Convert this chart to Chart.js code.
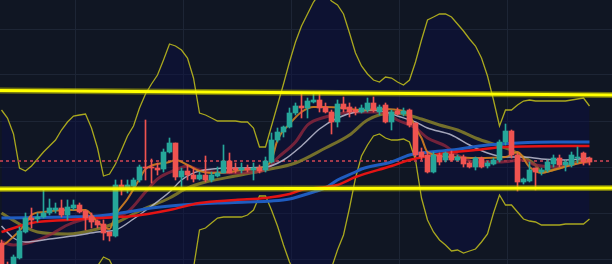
<!DOCTYPE html>
<html>
<head>
<meta charset="utf-8">
<script src="https://cdn.jsdelivr.net/npm/chart.js@4.4.1/dist/chart.umd.min.js"></script>
<style>
  html, body { margin: 0; padding: 0; background: #101623; overflow: hidden; }
  #wrap { width: 612px; height: 264px; }
</style>
</head>
<body>
<div id="wrap"><canvas id="chart" width="612" height="264"></canvas></div>
<script>
// candles, one per bar index (values in chart units, higher = up)
const opens = [21,-1,-4,6,32,46,45,47,51,54, 56,49,56,59,53,48,43,40,32,28, 79,74,78,84,97,97,96,95,112,121, 87,93,89,85,89,84,88,91,103,96, 94,96,94,96,94,102,124,132,137,151, 158,156,162,164,157,152,142,160,157,154, 152,154,161,152,159,142,153,150,154,141, 112,109,92,109,104,110,104,107,101,97, 106,98,100,104,122,133,109,82,83,96, 92,94,100,106,99,99,106,111,106];
const highs = [24,2,9,37,51,56,51,74,65,61, 64,64,64,61,54,51,44,44,32,84, 84,84,86,99,144,105,101,115,126,121, 96,99,96,92,108,92,97,119,111,101, 101,99,101,99,107,131,136,138,156,161, 172,166,172,172,161,154,164,167,161,157, 159,166,167,159,161,154,156,156,155,141, 116,112,112,111,112,113,109,109,102,107, 107,103,106,124,140,134,111,86,102,96, 96,104,109,109,104,112,117,112,107];
const lows = [-16,-15,-6,5,31,36,42,46,49,51, 47,44,54,51,34,36,36,24,23,27, 69,71,74,82,84,81,89,92,111,84, 77,84,82,84,82,82,87,91,91,91, 91,92,84,91,92,101,122,127,136,149, 146,146,161,152,151,130,137,152,147,149, 151,152,152,149,141,134,149,148,137,107, 104,91,91,99,102,103,103,97,96,94, 96,96,99,102,119,106,73,80,82,74, 89,92,97,97,93,97,101,99,99];
const closes = [-8,-11,7,33,46,44,47,51,56,56, 49,57,59,52,46,42,39,31,28,79, 74,79,84,97,96,96,94,112,121,87, 93,89,85,89,84,89,91,103,91,94, 96,94,96,93,103,124,132,137,151,158, 156,163,164,156,152,142,160,155,152,152, 156,161,154,157,142,152,150,153,139,109, 107,92,109,102,111,104,107,100,97,106, 97,101,104,122,133,109,82,85,94,92, 94,102,106,99,102,109,107,102,102];

// bollinger bands, one value per bar
const bbUpper = [154,146,130,96,93,98,105,112,118,124, 134,142,148,149,150,136,116,88,90,100, 114,128,138,156,170,180,189,204,220,218, 214,206,186,151,149,146,143,143,143,143, 142,142,136,117,117,138,159,180,202,222, 238,250,262,270,270,263,259,250,231,211, 198,190,184,182,187,186,182,179,184,202, 224,244,247,250,250,247,240,233,225,218, 206,188,164,138,154,154,159,163,164,163, 163,163,163,163,163,164,165,166,158];
const bbLower = [-66,-61,-54,-41,-36,-38,-44,-48,-54,-56, -54,-48,-41,-34,-26,-16,-2,7,4,-8, -21,-34,-46,-56,-66,-71,-74,-76,-76,-72, -61,-41,-4,34,36,41,46,47,47,47, 47,49,54,68,68,54,38,19,2,-11, -21,-28,-31,-26,-16,-4,14,29,56,86, 108,119,128,130,126,124,124,125,122,104, 66,44,32,24,19,13,14,11,13,15, 22,30,51,69,59,59,52,45,43,42, 39,39,39,39,40,40,40,40,45];

// moving averages as [bar index, value]
const maBlue = [[0,46],[11,47],[16,48],[22,53],[25,56],[30,59],[36,61],[41,62],[45,63],[48,65],[52,72],[54,76],[56,84],[59,92],[60,95],[65,102],[68,109],[70,111],[75,114],[81,119],[86,121],[92,122],[98,122]];
const maRed = [[0,32],[5,41],[11,44],[16,46],[22,48],[28,54],[33,61],[39,64],[44,66],[48,70],[50,74],[56,79],[59,87],[65,98],[68,104],[73,110],[79,114],[84,117],[98,118]];
const maOrange = [[0,18],[1,22],[4,40],[5,49],[7,52],[11,54],[14,54],[16,42],[18,35],[19,49],[21,65],[23,85],[24,95],[28,102],[29,104],[31,99],[33,93],[35,91],[38,92],[40,94],[43,96],[45,104],[46,124],[48,140],[50,152],[52,157],[54,157],[57,156],[60,154],[63,155],[66,154],[68,149],[69,136],[70,126],[71,112],[75,107],[79,106],[84,107],[86,112],[88,97],[90,91],[92,94],[95,99],[98,103]];
const maMaroon = [[0,22],[2,19],[5,22],[8,29],[11,39],[14,45],[18,47],[21,52],[24,72],[26,85],[29,94],[31,98],[33,94],[39,91],[44,94],[46,106],[49,122],[51,139],[54,147],[57,151],[60,152],[62,152],[64,151],[66,144],[69,136],[71,126],[74,118],[76,109],[79,102],[83,102],[87,104],[89,99],[93,97],[96,101],[98,102]];
const maGray = [[0,38],[2,26],[4,22],[8,25],[13,29],[16,32],[19,34],[22,45],[25,58],[28,72],[30,84],[33,93],[39,96],[44,97],[47,104],[50,118],[53,135],[56,146],[59,152],[62,154],[64,152],[66,148],[69,142],[71,136],[75,129],[78,119],[81,111],[84,107],[87,107],[90,105],[94,104],[98,106]];
const maOlive = [[0,51],[3,40],[6,32],[11,30],[16,35],[19,41],[23,53],[28,66],[31,76],[34,82],[39,88],[44,94],[49,101],[54,116],[58,129],[61,144],[65,151],[67,150],[70,145],[73,139],[76,134],[79,126],[83,118],[85,114],[87,107],[89,99],[90,92],[93,96],[96,102],[98,104]];

// drawn levels: [left value, right value]
const levelTop = [173.5, 169];
const levelBottom = [75, 76];
const dottedLevel = 103;

const xGridAt = [12.25, 30.25, 48.25, 66.25, 84.25];
const yGridAt = [5, 51, 97, 143, 189, 235];

const xMin = -0.25, xMax = 101.75;
const UP = '#26a69a', DOWN = '#ef5350';
const gridColor = '#1d2535';

const candleColors = opens.map((o, i) => closes[i] >= o ? UP : DOWN);
const pts = arr => arr.map(([x, y]) => ({ x, y }));
const across = (a, b) => [{ x: xMin, y: a }, { x: xMax, y: b }];

function maLine(data, color, width, order) {
  return {
    type: 'line', data: pts(data), borderColor: color, borderWidth: width,
    pointRadius: 0, cubicInterpolationMode: 'monotone', fill: false, order
  };
}

const datasets = [
  {
    type: 'line', data: bbUpper.map((y, x) => ({ x, y })),
    borderColor: 'rgba(178,176,30,0.95)', borderWidth: 1.3, pointRadius: 0,
    fill: '+1', backgroundColor: 'rgba(11,12,72,0.4)', order: 20
  },
  {
    type: 'line', data: bbLower.map((y, x) => ({ x, y })),
    borderColor: 'rgba(178,176,30,0.95)', borderWidth: 1.3, pointRadius: 0,
    fill: false, order: 20
  },
  {
    type: 'line', data: across(dottedLevel, dottedLevel),
    borderColor: 'rgba(178,62,78,0.9)', borderWidth: 2, borderDash: [3, 3],
    pointRadius: 0, fill: false, order: 19
  },
  maLine(maOlive, 'rgba(135,128,42,0.85)', 3, 18),
  maLine(maMaroon, 'rgba(150,40,62,0.75)', 3, 17),
  maLine(maGray, 'rgba(190,192,210,0.85)', 1.5, 16),
  maLine(maBlue, '#1f5cc0', 3, 15),
  maLine(maRed, '#e41414', 2.5, 14),
  maLine(maOrange, 'rgba(212,128,32,0.9)', 2, 13),
  {
    type: 'bar', data: lows.map((l, i) => ({ x: i, y: [l, highs[i]] })),
    backgroundColor: candleColors, barThickness: 1, grouped: false, order: 6
  },
  {
    type: 'bar', data: opens.map((o, i) => ({ x: i, y: [o, closes[i]] })),
    backgroundColor: candleColors, barThickness: 5, minBarLength: 1, grouped: false, order: 5
  },
  {
    type: 'line', data: across(levelTop[0], levelTop[1]),
    borderColor: 'rgba(190,190,0,0.55)', borderWidth: 6, pointRadius: 0, fill: false, order: 2
  },
  {
    type: 'line', data: across(levelTop[0], levelTop[1]),
    borderColor: '#ffff00', borderWidth: 3, pointRadius: 0, fill: false, order: 1
  },
  {
    type: 'line', data: across(levelBottom[0], levelBottom[1]),
    borderColor: 'rgba(190,190,0,0.55)', borderWidth: 6, pointRadius: 0, fill: false, order: 2
  },
  {
    type: 'line', data: across(levelBottom[0], levelBottom[1]),
    borderColor: '#ffff00', borderWidth: 3, pointRadius: 0, fill: false, order: 1
  }
];

const background = {
  id: 'background',
  beforeDraw(chart) {
    const { ctx, width, height } = chart;
    ctx.save();
    ctx.fillStyle = '#101623';
    ctx.fillRect(0, 0, width, height);
    ctx.restore();
  }
};

const hiddenAxis = (min, max, at) => ({
  type: 'linear', min, max, offset: false,
  grid: { color: gridColor, lineWidth: 1, drawTicks: false, offset: false },
  border: { display: false },
  ticks: { display: false },
  afterBuildTicks: s => { s.ticks = at.map(value => ({ value })); }
});

new Chart(document.getElementById('chart'), {
  type: 'bar',
  data: { datasets },
  options: {
    responsive: false,
    animation: false,
    devicePixelRatio: 1,
    layout: { padding: 0 },
    plugins: {
      legend: { display: false },
      tooltip: { enabled: false },
      filler: { drawTime: 'beforeDatasetsDraw' }
    },
    scales: {
      x: hiddenAxis(xMin, xMax, xGridAt),
      y: hiddenAxis(0, 264, yGridAt)
    }
  },
  plugins: [background]
});
</script>
</body>
</html>
